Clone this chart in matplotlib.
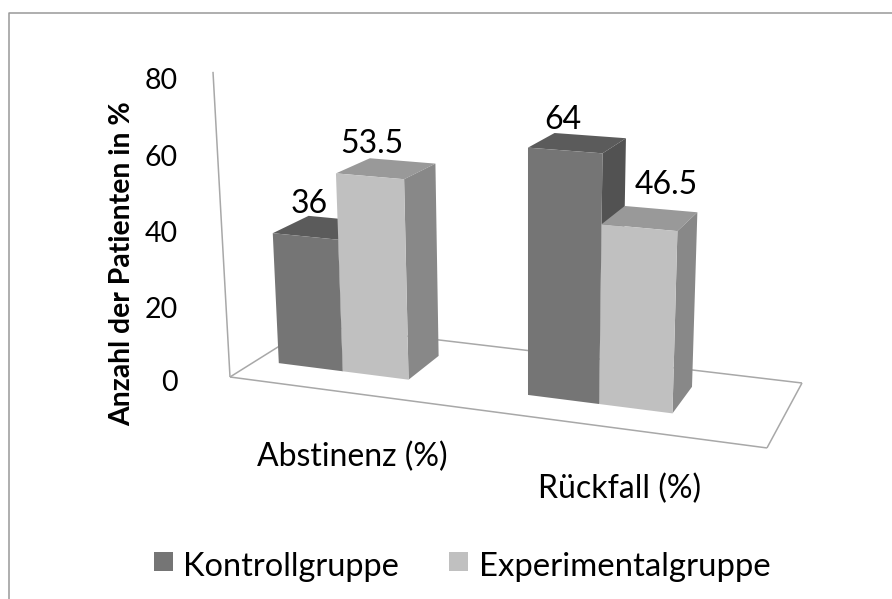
import numpy as np
import matplotlib
matplotlib.use("Agg")
import matplotlib.pyplot as plt
from matplotlib.lines import Line2D
from matplotlib.patches import Rectangle
from mpl_toolkits.mplot3d.art3d import Line3DCollection

# ---- data ----
categories = ["Abstinenz (%)", "Rückfall (%)"]
series = ["Kontrollgruppe", "Experimentalgruppe"]
kontroll = [36, 64]
experimental = [53.5, 46.5]
value_ticks = [0, 20, 40, 60, 80]
ylabel = "Anzahl der Patienten in %"

# ---- style ----
W, H = 892, 599
FONT = "Lato"
front = ["#757575", "#c0c0c0"]
top = ["#5b5b5b", "#999999"]
side = ["#525252", "#888888"]
grid = "#a8a8a8"
text_col = "#000000"

fig = plt.figure(figsize=(W / 100, H / 100), dpi=100, facecolor="white")
ax = fig.add_axes([0, 0, 1, 1], projection="3d", computed_zorder=False)
ax.set_axis_off()
ax.apply_aspect = lambda position=None: None

# perspective camera: floor quad homography plus vertical vanishing point (pixels)
g, h = -0.1057, 0.1057
a, b, c = 455.9, 116.1, 230.0
d, e, f = 23.6, -17.6, 377.0
t = -0.000675
V = (528.0, 5723.0)
# world: x in category units (0..2), y depth (0..1), z value
Pix = np.array([
    [a / 2, b, t * V[0], c],
    [d / 2, e, t * V[1], f],
    [g / 2, h, t, 1.0],
])


def project(x, y, z):
    v = Pix @ np.array([x, y, z, 1.0])
    return v[0] / v[2], v[1] / v[2]


flip = np.array([[1, 0, 0], [0, -1, H], [0, 0, 1.0]])
A = ax.transData.inverted().get_matrix() @ flip
R = A @ Pix
M = np.array([R[0], R[1], [0, 1, 0, 0], R[2]])
ax.get_proj = lambda: M

# floor and wall edge
corners = [(0, 0, 0), (2, 0, 0), (2, 1, 0), (0, 1, 0), (0, 0, 0), (0, 0, 80)]
segments = [[p, q] for p, q in zip(corners[:-1], corners[1:])]
ax.add_collection3d(Line3DCollection(segments, colors=grid, linewidths=1.1, zorder=1))

# bars
bar_w = 0.267
group_x = [0.094, 1.094]
y0, dy = 0.30, 0.43
clear = (0, 0, 0, 0)
order = 2
for i, gx in enumerate(group_x):
    for j, vals in enumerate([kontroll, experimental]):
        ax.bar3d(gx + j * bar_w, y0, 0, bar_w, dy, vals[i],
                 color=[clear, top[j], front[j], clear, clear, side[j]],
                 shade=False, zorder=order, edgecolor="none")
        order += 1


# text
def ptext(px, py, s, **kw):
    return fig.text(px / W, 1 - py / H, s, family=FONT, color=text_col, **kw)


tick_nudge = {80: 9, 60: 7, 40: 5, 20: 6, 0: 6}
for v in value_ticks:
    px, py = project(0, 0, v)
    ptext(178, py + tick_nudge[v], str(v), ha="right", va="center", fontsize=20.5)

ptext(122, 264, ylabel, rotation=90, ha="center", va="center", fontsize=20.4, fontweight="bold")

cat_px = [(352, 457), (620, 489)]
for (px, py), s in zip(cat_px, categories):
    ptext(px, py, s, ha="center", va="center", fontsize=23)

label_off = [[(-14, -14), (-15, -15)], [(-15, -14), (16, -24)]]
for i, gx in enumerate(group_x):
    for j, vals in enumerate([kontroll, experimental]):
        px, py = project(gx + (j + 0.5) * bar_w, y0 + dy / 2, vals[i])
        ox, oy = label_off[i][j]
        ptext(px + ox, py + oy, f"{vals[i]:g}", ha="center", va="baseline", fontsize=23)

# legend
legend_x = [154, 449]
for sx, col in zip(legend_x, front):
    fig.add_artist(Rectangle((sx / W, 1 - 571 / H), 19 / W, 19 / H,
                             transform=fig.transFigure, color=col, lw=0))
ptext(183, 567, series[0], ha="left", va="center", fontsize=23.4)
ptext(479, 567, series[1], ha="left", va="center", fontsize=23.7)

# outer frame: only top and left edges are inside the crop
fig.add_artist(Line2D([8.5 / W, 8.5 / W, 1], [0, 1 - 12.5 / H, 1 - 12.5 / H],
                      transform=fig.transFigure, color="#999999", lw=1.1))
fig.savefig("out.png", dpi=100)
